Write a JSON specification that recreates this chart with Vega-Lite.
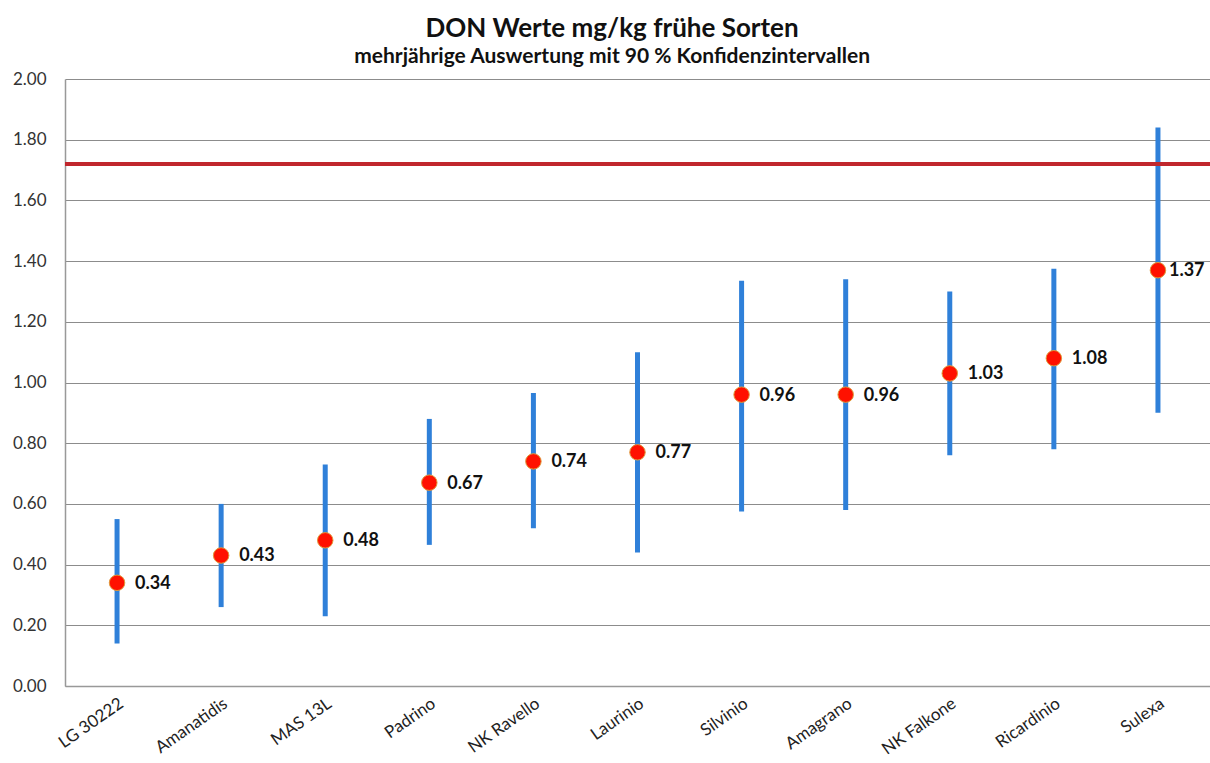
{
  "$schema": "https://vega.github.io/schema/vega-lite/v6.json",
  "autosize": {"type": "none"},
  "width": 1145,
  "height": 607,
  "padding": {"left": 65, "top": 79, "right": 0, "bottom": 77},
  "background": "white",
  "title": {
    "text": "DON Werte mg/kg frühe Sorten",
    "subtitle": "mehrjährige Auswertung mit 90 % Konfidenzintervallen",
    "anchor": "middle",
    "frame": "bounds",
    "font": "Lato",
    "fontSize": 26,
    "fontWeight": "bold",
    "color": "#111111",
    "subtitleFont": "Lato",
    "subtitleFontSize": 21,
    "subtitleFontWeight": "bold",
    "subtitleColor": "#111111",
    "subtitlePadding": 4,
    "offset": 3
  },
  "data": {
    "values": [
      {"sorte": "LG 30222", "don": 0.34, "lo": 0.14, "hi": 0.55},
      {"sorte": "Amanatidis", "don": 0.43, "lo": 0.26, "hi": 0.60},
      {"sorte": "MAS 13L", "don": 0.48, "lo": 0.23, "hi": 0.73},
      {"sorte": "Padrino", "don": 0.67, "lo": 0.465, "hi": 0.88},
      {"sorte": "NK Ravello", "don": 0.74, "lo": 0.52, "hi": 0.965},
      {"sorte": "Laurinio", "don": 0.77, "lo": 0.44, "hi": 1.10},
      {"sorte": "Silvinio", "don": 0.96, "lo": 0.575, "hi": 1.335},
      {"sorte": "Amagrano", "don": 0.96, "lo": 0.58, "hi": 1.34},
      {"sorte": "NK Falkone", "don": 1.03, "lo": 0.76, "hi": 1.30},
      {"sorte": "Ricardinio", "don": 1.08, "lo": 0.78, "hi": 1.375},
      {"sorte": "Sulexa", "don": 1.37, "lo": 0.90, "hi": 1.84}
    ]
  },
  "config": {
    "view": {"stroke": null},
    "axis": {"labelFont": "Lato", "titleFont": "Lato"}
  },
  "layer": [
    {
      "mark": {"type": "rule", "strokeWidth": 5, "color": "#2f80d9"},
      "encoding": {
        "x": {
          "field": "sorte",
          "type": "nominal",
          "sort": null,
          "scale": {"paddingInner": 0, "paddingOuter": 0},
          "axis": {
            "title": null,
            "labelAngle": -35,
            "labelFontSize": 17,
            "labelColor": "#222222",
            "labelPadding": 9,
            "ticks": false,
            "domainColor": "#999999",
            "domainWidth": 1.5,
            "grid": false
          }
        },
        "y": {
          "field": "lo",
          "type": "quantitative",
          "scale": {"domain": [0, 2], "nice": false},
          "axis": {
            "title": null,
            "values": [0, 0.2, 0.4, 0.6, 0.8, 1.0, 1.2, 1.4, 1.6, 1.8, 2.0],
            "format": ".2f",
            "labelFontSize": 17,
            "labelColor": "#333333",
            "labelPadding": 19,
            "ticks": false,
            "grid": true,
            "gridColor": "#8c8c8c",
            "gridWidth": 1.2,
            "domainColor": "#999999",
            "domainWidth": 1.5
          }
        },
        "y2": {"field": "hi"}
      }
    },
    {
      "mark": {"type": "rule", "color": "#c0272d", "strokeWidth": 3.5},
      "encoding": {"y": {"datum": 1.72, "type": "quantitative"}}
    },
    {
      "mark": {"type": "circle", "size": 240, "opacity": 1, "color": "#ff1100", "stroke": "#e09a3a", "strokeWidth": 1},
      "encoding": {
        "x": {"field": "sorte", "type": "nominal", "sort": null},
        "y": {"field": "don", "type": "quantitative"}
      }
    },
    {
      "transform": [{"filter": "datum.sorte !== 'Sulexa'"}],
      "mark": {"type": "text", "align": "left", "dx": 18, "dy": 1, "font": "Lato", "fontSize": 18, "fontWeight": "bold", "color": "#111111"},
      "encoding": {
        "x": {"field": "sorte", "type": "nominal", "sort": null},
        "y": {"field": "don", "type": "quantitative"},
        "text": {"field": "don", "type": "quantitative", "format": ".2f"}
      }
    },
    {
      "transform": [{"filter": "datum.sorte === 'Sulexa'"}],
      "mark": {"type": "text", "align": "left", "dx": 11, "dy": 1, "font": "Lato", "fontSize": 18, "fontWeight": "bold", "color": "#111111"},
      "encoding": {
        "x": {"field": "sorte", "type": "nominal", "sort": null},
        "y": {"field": "don", "type": "quantitative"},
        "text": {"field": "don", "type": "quantitative", "format": ".2f"}
      }
    }
  ]
}
